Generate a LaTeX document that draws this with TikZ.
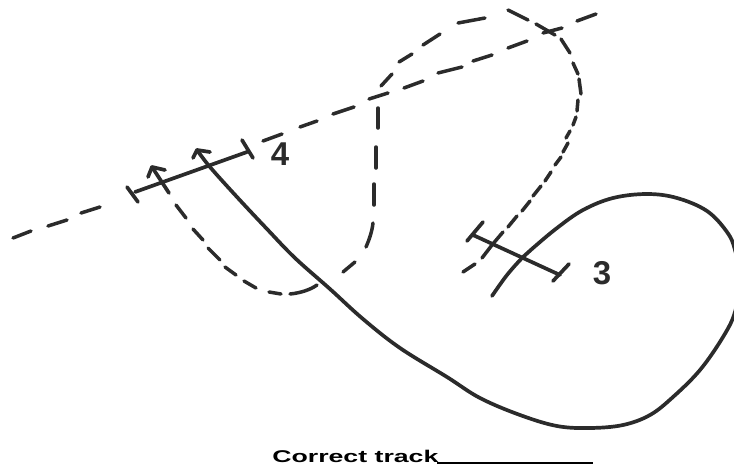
\documentclass[tikz,border=0pt]{standalone}
\usepackage{fontspec}
\setmainfont{Liberation Sans}
\definecolor{ink}{HTML}{2B2B2B}
\tikzset{
  pen/.style={draw=ink,line width=3.7pt,line cap=round,line join=round},
  thinpen/.style={draw=ink,line width=3.5pt,line cap=round,line join=round},
  numeral/.style={font=\fontsize{33}{33}\selectfont\bfseries,text=ink,inner sep=0pt},
  caption/.style={font=\fontsize{17}{17}\selectfont\bfseries,text=black,inner sep=0pt,xscale=1.57}
}
\begin{document}
\begin{tikzpicture}[x=1pt,y=-1pt]
\useasboundingbox (0,0) rectangle (734,467);
% straight dashed line
\foreach \a/\b/\c/\d in {13/238/31/231, 48/226/67/220, 81/213/100/207, 263/141/282/134,
  300/127/317/121, 333/114/354/107, 369/99/388/93, 404/88/423/81, 438/73/462/67,
  473/61/492/55, 508/48/527/41, 543/33/562/28, 577/21/596/14}
  \draw[thinpen] (\a,\b) -- (\c,\d);
% upper dashed curve
\foreach \a/\b/\c/\d in {378/108/378/128, 376/147/376/168, 374/184/374/205, 355/262/343/272,
  381/86/392/74, 399/62/412/54, 423/45/440/34, 458/23/485/18, 508/10/528/20,
  536/24/555/35, 561/39/570/53, 573/63/578/74, 579/79/581/94, 578/100/577/111,
  576/117/573/125, 570/131/566/138, 568/143/563/152, 561/157/555/165, 551/172/545/181,
  541/186/533/196, 530/201/522/211, 517/216/508/227, 475/264/463/272,
  176/205/186/218, 193/229/203/240, 208/248/220/260, 225/267/236/275, 244/281/256/288,
  269/292/281/294}
  \draw[thinpen] (\a,\b) -- (\c,\d);
\draw[thinpen] (373,223) .. controls (372,232) and (369,240) .. (366,247);
\draw[thinpen] (503,232) -- (492,245) -- (482,258);
\draw[thinpen] (290,294) .. controls (300,293) and (310,290) .. (317,285);
% solid track
\begin{scope}
\clip (0,0) rectangle (734,467);
\draw[pen] plot[smooth,tension=0.6] coordinates {
 (197,150) (210,167) (237,197) (267,229) (295,258) (330,289) (363,319) (400,348) (447,377)
 (480,398) (520,415) (557,426) (590,428) (623,425) (650,415) (673,397) (700,370) (723,337)
 (735,312) (740,280) (735,250) (727,232) (707,211) (677,198) (647,194) (613,198) (583,210) (557,228)
 (533,248) (523,257) (507,275) (492,296)};
\end{scope}
% gate 4
\draw[pen] (135,192) -- (247,152);
\draw[pen] (127,187) -- (138,202);
\draw[pen] (242,140) -- (253,158);
\draw[pen] (169,193) -- (152,167);
\draw[pen] (148,177) -- (152,167) -- (165,170);
\draw[pen] (193,158) -- (197,150) -- (210,152);
% gate 3
\draw[pen] (473,235) -- (560,275);
\draw[pen] (483,222) -- (467,241);
\draw[pen] (569,264) -- (553,281);
% labels
\node[numeral] (four) at (280,154) {4};
\node[numeral] (three) at (602,273) {3};
\node[caption,anchor=west] (cap) at (272,456) {Correct track};
\draw[draw=black,line width=2.4pt] (437,463) -- (593,463);
\end{tikzpicture}
\end{document}
